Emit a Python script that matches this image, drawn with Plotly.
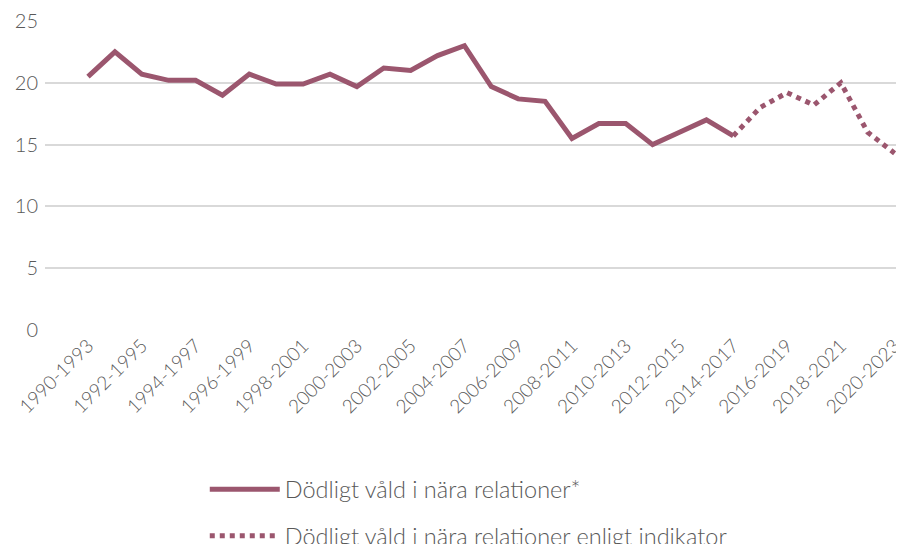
import plotly.graph_objects as go

categories = [f"{y}-{y+3}" for y in range(1990, 2021)]
solid_values = [20.5, 22.5, 20.7, 20.2, 20.2, 19.0, 20.7, 19.9, 19.9, 20.7,
                19.7, 21.2, 21.0, 22.2, 23.0, 19.7, 18.7, 18.5, 15.5, 16.7,
                16.7, 15.0, 16.0, 17.0, 15.7]
indicator_categories = categories[24:]
indicator_values = [15.7, 18.0, 19.2, 18.2, 20.0, 16.0, 14.3]
tick_labels = categories[::2]
y_ticks = [0, 5, 10, 15, 20, 25]

color = "#9b566e"
font_family = "Lato, 'Open Sans', sans-serif"

fig = go.Figure()
fig.add_trace(go.Scatter(
    x=categories[:len(solid_values)], y=solid_values, mode="lines",
    name="Dödligt våld i nära relationer*",
    line=dict(color=color, width=5), legendgroup="a"))
fig.add_trace(go.Scatter(
    x=indicator_categories, y=indicator_values, mode="lines",
    name="Dödligt våld i nära relationer enligt indikator",
    line=dict(color=color, width=5, dash="5px,5px"), legendgroup="b"))

fig.update_layout(
    width=896, height=536,
    margin=dict(l=37, r=0, t=13, b=214, autoexpand=False),
    paper_bgcolor="white", plot_bgcolor="white",
    font=dict(family=font_family, color="#595959", weight=300),
    showlegend=True,
    legend=dict(orientation="v", x=0.186, xanchor="left", y=-0.4445, yanchor="top",
                font=dict(size=23.5, color="#595959", weight=300),
                itemwidth=70, tracegroupgap=13, traceorder="grouped"),
    xaxis=dict(type="category", categoryorder="array", categoryarray=categories,
               tickmode="array", tickvals=tick_labels, ticktext=tick_labels,
               tickangle=-45, tickfont=dict(size=19, color="#595959"),
               showgrid=False, showline=False, zeroline=False,
               range=[-1.6, 30.35], ticks="", automargin=False),
    yaxis=dict(range=[0, 25], tickvals=y_ticks, showgrid=True,
               gridcolor="#d9d9d9", gridwidth=2, zeroline=False,
               tickfont=dict(size=20, color="#595959"), ticks="",
               ticklabelstandoff=6, automargin=False),
)

fig.write_html("out.html")
